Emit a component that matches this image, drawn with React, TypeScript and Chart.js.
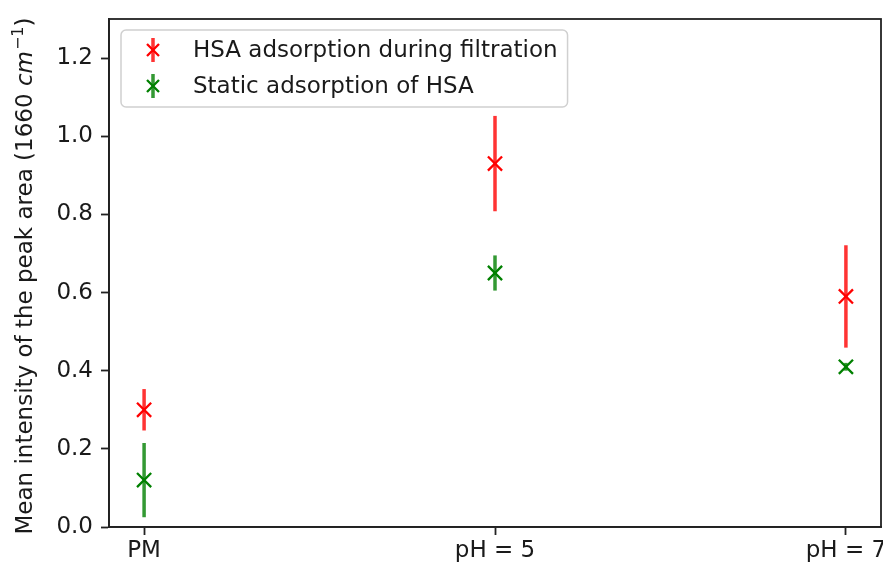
import React, { useEffect, useRef } from "react";
import { Chart, registerables } from "chart.js";

Chart.register(...registerables);

const categories = ["PM", "pH = 5", "pH = 7"];
const yTickValues = [0, 0.2, 0.4, 0.6, 0.8, 1.0, 1.2];

const filtrationLabel = "HSA adsorption during filtration";
const filtrationValues = [0.30, 0.93, 0.59];
const filtrationErrors = [0.053, 0.122, 0.131];

const staticLabel = "Static adsorption of HSA";
const staticValues = [0.12, 0.65, 0.41];
const staticErrors = [0.095, 0.045, 0.01];

const FONT = "'DejaVu Sans', 'Liberation Sans', sans-serif";
const FS = 23;
const TEXT = "#1a1a1a";

const RED = "rgb(255,0,0)";
const RED_BAR = "rgba(255,0,0,0.8)";
const GREEN = "rgb(0,128,0)";
const GREEN_BAR = "rgba(0,128,0,0.8)";

const errorBarPlugin = {
  id: "errorBars",
  beforeDatasetsDraw(chart: any) {
    const { ctx, scales } = chart;
    const xs = scales.x;
    const ys = scales.y;
    chart.data.datasets.forEach((ds: any) => {
      ctx.save();
      ctx.strokeStyle = ds.barColor;
      ctx.lineWidth = 3.5;
      ctx.lineCap = "butt";
      ds.data.forEach((p: any, i: number) => {
        const e = ds.errors[i];
        const x = xs.getPixelForValue(p.x);
        ctx.beginPath();
        ctx.moveTo(x, ys.getPixelForValue(p.y + e));
        ctx.lineTo(x, ys.getPixelForValue(p.y - e));
        ctx.stroke();
      });
      ctx.restore();
    });
  },
};

const framePlugin = {
  id: "frame",
  afterDraw(chart: any) {
    const { ctx, chartArea } = chart;
    ctx.save();
    ctx.strokeStyle = "#222";
    ctx.lineWidth = 1.8;
    ctx.strokeRect(chartArea.left, chartArea.top, chartArea.right - chartArea.left, chartArea.bottom - chartArea.top);
    ctx.restore();
  },
};

const legendPlugin = {
  id: "boxLegend",
  afterDraw(chart: any) {
    const { ctx, chartArea } = chart;
    const left = chartArea.left + 12;
    const top = chartArea.top + 11;
    const rowH = 36;
    ctx.save();
    ctx.font = `${FS}px ${FONT}`;
    const dsets = chart.data.datasets;
    let maxW = 0;
    dsets.forEach((d: any) => { maxW = Math.max(maxW, ctx.measureText(d.label).width); });
    const textX = left + 72;
    const w = textX - left + maxW + 10;
    const h = rowH * dsets.length + 5;
    ctx.fillStyle = "rgba(255,255,255,0.8)";
    ctx.strokeStyle = "#d0d0d0";
    ctx.lineWidth = 1.5;
    ctx.beginPath();
    (ctx as any).roundRect(left, top, w, h, 5);
    ctx.fill();
    ctx.stroke();
    dsets.forEach((d: any, i: number) => {
      const cy = top + 20 + i * rowH;
      const hx = left + 32;
      ctx.strokeStyle = d.barColor;
      ctx.lineWidth = 3.5;
      ctx.beginPath();
      ctx.moveTo(hx, cy - 12);
      ctx.lineTo(hx, cy + 12);
      ctx.stroke();
      ctx.strokeStyle = d.borderColor;
      ctx.lineWidth = 2.3;
      ctx.beginPath();
      ctx.moveTo(hx - 6, cy - 6);
      ctx.lineTo(hx + 6, cy + 6);
      ctx.moveTo(hx - 6, cy + 6);
      ctx.lineTo(hx + 6, cy - 6);
      ctx.stroke();
      ctx.fillStyle = TEXT;
      ctx.textBaseline = "middle";
      ctx.textAlign = "left";
      ctx.fillText(d.label, textX, cy + 1);
    });
    ctx.restore();
  },
};

const yTitlePlugin = {
  id: "yTitle",
  afterDraw(chart: any) {
    const { ctx, chartArea } = chart;
    const cy = (chartArea.top + chartArea.bottom) / 2 + 3;
    const baseX = 32;
    ctx.save();
    const partA = "Mean intensity of the peak area (1660 ";
    const partB = "cm";
    const partC = "\u22121";
    const partD = ")";
    const fA = `${FS}px ${FONT}`;
    const fB = `italic ${FS}px ${FONT}`;
    const fC = `${Math.round(FS * 0.7)}px ${FONT}`;
    ctx.font = fA;
    const wA = ctx.measureText(partA).width;
    const wD = ctx.measureText(partD).width;
    ctx.font = fB;
    const wB = ctx.measureText(partB).width;
    ctx.font = fC;
    const wC = ctx.measureText(partC).width;
    const total = wA + wB + wC + wD + 1;
    ctx.translate(baseX, cy);
    ctx.rotate(-Math.PI / 2);
    ctx.fillStyle = TEXT;
    ctx.textBaseline = "alphabetic";
    ctx.textAlign = "left";
    let x = -total / 2;
    ctx.font = fA; ctx.fillText(partA, x, 0); x += wA;
    ctx.font = fB; ctx.fillText(partB, x, 0); x += wB + 1;
    ctx.font = fC; ctx.fillText(partC, x, -9); x += wC;
    ctx.font = fA; ctx.fillText(partD, x, 0);
    ctx.restore();
  },
};

export default function App() {
  const ref = useRef<HTMLCanvasElement | null>(null);
  useEffect(() => {
    document.body.style.margin = "0";
    const canvas = ref.current;
    if (!canvas) return;
    const chart = new Chart(canvas, {
      type: "scatter",
      data: {
        datasets: [
          {
            label: filtrationLabel,
            data: filtrationValues.map((v, i) => ({ x: i, y: v })),
            errors: filtrationErrors,
            barColor: RED_BAR,
            borderColor: RED,
            backgroundColor: RED,
            pointStyle: "crossRot",
            pointRadius: 10,
            pointHoverRadius: 10,
            pointBorderWidth: 2.3,
          } as any,
          {
            label: staticLabel,
            data: staticValues.map((v, i) => ({ x: i, y: v })),
            errors: staticErrors,
            barColor: GREEN_BAR,
            borderColor: GREEN,
            backgroundColor: GREEN,
            pointStyle: "crossRot",
            pointRadius: 10,
            pointHoverRadius: 10,
            pointBorderWidth: 2.3,
          } as any,
        ],
      },
      options: {
        animation: false,
        responsive: false,
        devicePixelRatio: 1,
        layout: { autoPadding: false, padding: { left: 0, top: 19, right: 2, bottom: 0 } },
        plugins: { legend: { display: false }, tooltip: { enabled: false } },
        scales: {
          x: {
            type: "linear",
            min: -0.1,
            max: 2.1,
            afterBuildTicks: (s: any) => { s.ticks = categories.map((_, i) => ({ value: i })); },
            afterFit: (s: any) => { s.height = 38; s.paddingLeft = 0; s.paddingRight = 0; },
            ticks: {
              callback: (v: any) => categories[Math.round(v)] ?? "",
              font: { family: FONT, size: FS },
              color: TEXT,
              padding: 2,
              maxRotation: 0,
              autoSkip: false,
            },
            grid: { drawOnChartArea: false, tickLength: 8, tickWidth: 1.8, color: "#222" },
            border: { display: true, color: "#222", width: 1.8 },
          },
          y: {
            type: "linear",
            min: 0,
            max: 1.3,
            afterBuildTicks: (s: any) => { s.ticks = yTickValues.map((v) => ({ value: v })); },
            afterFit: (s: any) => { s.width = 109; s.paddingTop = 0; s.paddingBottom = 0; },
            ticks: {
              callback: (v: any) => Number(v).toFixed(1),
              font: { family: FONT, size: FS },
              color: TEXT,
              padding: 8,
            },
            grid: { drawOnChartArea: false, tickLength: 8, tickWidth: 1.8, color: "#222" },
            border: { display: true, color: "#222", width: 1.8 },
          },
        },
      } as any,
      plugins: [errorBarPlugin, framePlugin, legendPlugin, yTitlePlugin],
    });
    return () => chart.destroy();
  }, []);
  return (
    <div style={{ width: 883, height: 565 }}>
      <canvas ref={ref} width={883} height={565} style={{ display: "block" }} />
    </div>
  );
}
